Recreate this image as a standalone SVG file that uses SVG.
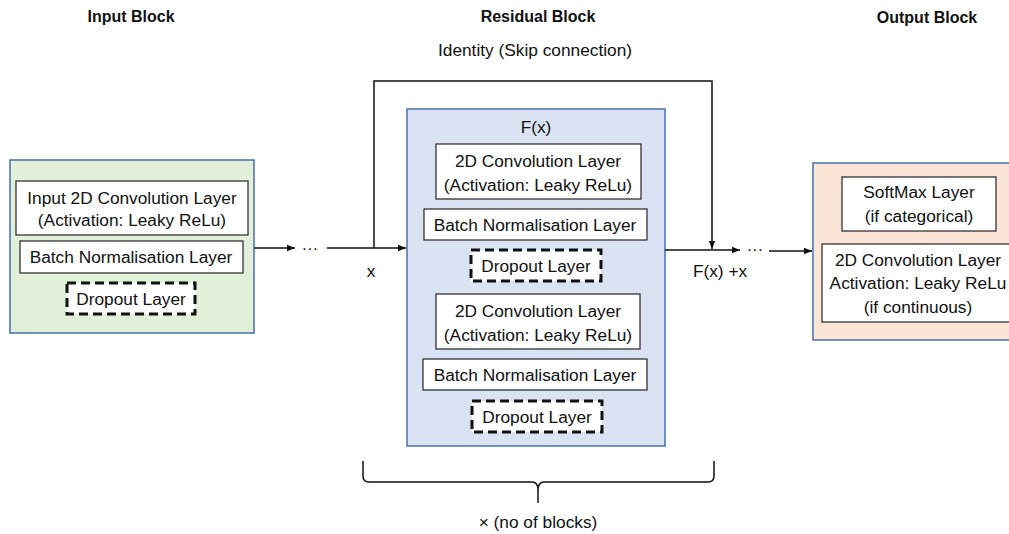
<svg xmlns="http://www.w3.org/2000/svg" width="1009" height="534" viewBox="0 0 1009 534">
  <defs>
    <marker id="arrow" viewBox="0 0 10 10" refX="10" refY="5" markerWidth="8" markerHeight="8" markerUnits="userSpaceOnUse" orient="auto">
      <path d="M0,1 L10,5 L0,9 z" fill="#111"/>
    </marker>
  </defs>
  <style>
    text { font-family: "Liberation Sans", Arial, sans-serif; font-size: 17.3px; fill: #111; text-anchor: middle; }
    .title { font-weight: bold; font-size: 16px; }
    .block { stroke: #4a6fb0; stroke-width: 1.5; }
    .layer { fill: #fff; stroke: #333; stroke-width: 1.3; }
    .drop { fill: #fff; stroke: #111; stroke-width: 3; stroke-dasharray: 9 5; }
    .wire { fill: none; stroke: #111; stroke-width: 1.5; }
  </style>

  <rect width="1009" height="534" fill="#fff"/>

  <!-- section titles -->
  <text class="title" x="131" y="22">Input Block</text>
  <text class="title" x="538" y="22">Residual Block</text>
  <text class="title" x="927" y="23">Output Block</text>

  <!-- input block -->
  <g id="input-block">
    <rect class="block" x="10" y="160" width="244" height="173" fill="#e2efd9"/>
    <rect class="layer" x="16" y="181" width="232" height="54"/>
    <text x="132" y="204">Input 2D Convolution Layer</text>
    <text x="132" y="226">(Activation: Leaky ReLu)</text>
    <rect class="layer" x="20" y="241" width="223" height="32"/>
    <text x="131" y="263">Batch Normalisation Layer</text>
    <rect class="drop" x="67" y="283" width="128" height="31"/>
    <text x="131" y="305">Dropout Layer</text>
  </g>

  <!-- residual block -->
  <g id="residual-block">
    <rect class="block" x="407" y="109" width="258" height="337" fill="#dae3f3"/>
    <text x="536" y="133">F(x)</text>
    <rect class="layer" x="436" y="144" width="205" height="55"/>
    <text x="538" y="167">2D Convolution Layer</text>
    <text x="538" y="191">(Activation: Leaky ReLu)</text>
    <rect class="layer" x="424" y="209" width="223" height="31"/>
    <text x="535" y="231">Batch Normalisation Layer</text>
    <rect class="drop" x="471" y="250" width="130" height="31"/>
    <text x="536" y="272">Dropout Layer</text>
    <rect class="layer" x="436" y="294" width="204" height="55"/>
    <text x="538" y="317">2D Convolution Layer</text>
    <text x="538" y="341">(Activation: Leaky ReLu)</text>
    <rect class="layer" x="423" y="359" width="224" height="31"/>
    <text x="535" y="381">Batch Normalisation Layer</text>
    <rect class="drop" x="472" y="401" width="130" height="31"/>
    <text x="537" y="423">Dropout Layer</text>
  </g>

  <!-- output block -->
  <g id="output-block">
    <rect class="block" x="813" y="163" width="200" height="177" fill="#fbe5d6"/>
    <rect class="layer" x="842" y="177" width="154" height="54"/>
    <text x="919" y="198">SoftMax Layer</text>
    <text x="919" y="222">(if categorical)</text>
    <rect class="layer" x="822" y="244" width="192" height="78"/>
    <text x="918" y="266">2D Convolution Layer</text>
    <text x="918" y="289">Activation: Leaky ReLu</text>
    <text x="918" y="313">(if continuous)</text>
  </g>

  <!-- connectors -->
  <g id="connectors">
    <line class="wire" x1="254" y1="248" x2="295" y2="248" marker-end="url(#arrow)"/>
    <text x="310" y="250">…</text>
    <line class="wire" x1="327" y1="248" x2="406" y2="248" marker-end="url(#arrow)"/>
    <path class="wire" d="M374,248 V81 H712 V249" marker-end="url(#arrow)"/>
    <line class="wire" x1="665" y1="250" x2="740" y2="250" marker-end="url(#arrow)"/>
    <text x="755" y="251">…</text>
    <line class="wire" x1="769" y1="251" x2="812" y2="251" marker-end="url(#arrow)"/>
    <text x="371" y="277">x</text>
    <text x="720" y="277">F(x) +x</text>
    <text x="535" y="56">Identity (Skip connection)</text>
    <!-- brace spanning the repeated residual blocks -->
    <path class="wire" d="M363,461 V476 Q363,482 369,482 H532 Q538,482 538,490 V503 M538,490 Q538,482 544,482 H708 Q714,482 714,476 V461"/>
    <text x="538" y="528">× (no of blocks)</text>
  </g>
</svg>
